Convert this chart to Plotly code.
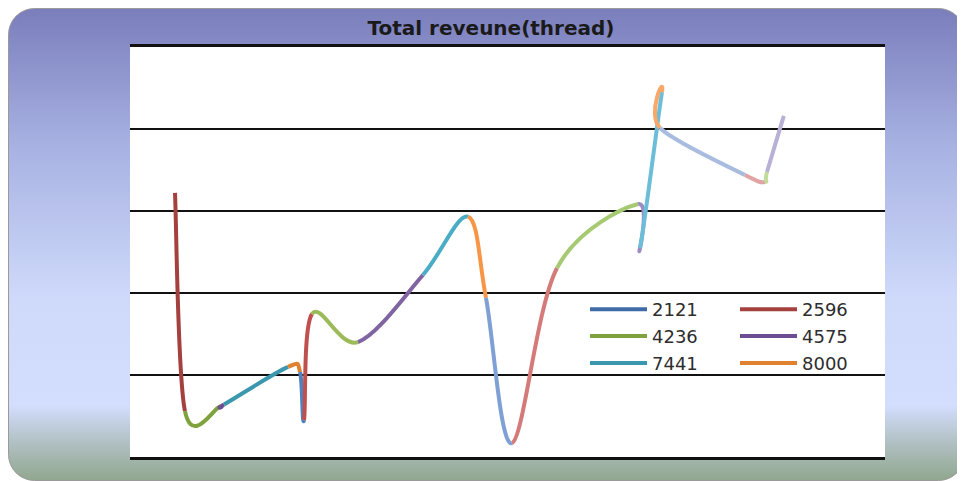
import base64
import plotly.graph_objects as go

# ---------------- data ----------------
legend_labels = ["2121", "2596", "4236", "4575", "7441", "8000"]
x_vals = [5.96, 7.28, 11.92, 12.45, 20.93, 22.52, 23.05, 24.10, 30.20, 38.80, 44.77,
          47.15, 50.60, 56.56, 67.30, 67.55, 70.46, 70.20, 81.46, 84.10, 84.37, 86.60]
y_vals = [3220, 560, 615, 640, 1098, 1037, 451, 1744, 1402, 2220, 2930,
          1940, 170, 2305, 3085, 2549, 4450, 4012, 3439, 3354, 3476, 4160]
title_text = "Total reveune(thread)"

# ---------------- styles ----------------
legend_colors = ["#3F6CA6", "#A4403D", "#7FA23F", "#6C4E92", "#3A97AD", "#E0812F"]
point_colors = (legend_colors +
                ["#4F81BD", "#C0504D", "#9BBB59", "#8064A2", "#4BACC6", "#F79646"] +
                ["#7FA0D4", "#D47A78", "#A6CA72", "#9C8CC4", "#6CBDD8", "#F9A86A"] +
                ["#A9BCE0", "#E0A4A2", "#C0DC98", "#B9B0D6"])

# page body has an 8px margin, so the figure is laid out 8px up/left
W, H = 957, 473
L, R, T, B = 122, 877, 39, 449

fig = go.Figure()

n = len(x_vals)
shapes = []
shapes.append(dict(type="rect", xref="paper", yref="paper", x0=0, x1=1, y0=0, y1=1,
                   fillcolor="white", line=dict(width=0), layer="below"))
for i in range(n - 1):
    i0 = i - 1 if i > 0 else i
    i3 = i + 2 if i + 2 < n else i + 1
    x0, y0 = x_vals[i0], y_vals[i0]
    x1, y1 = x_vals[i], y_vals[i]
    x2, y2 = x_vals[i + 1], y_vals[i + 1]
    x3, y3 = x_vals[i3], y_vals[i3]
    c1x, c1y = x1 + (x2 - x0) / 6, y1 + (y2 - y0) / 6
    c2x, c2y = x2 - (x3 - x1) / 6, y2 - (y3 - y1) / 6
    path = f"M {x1},{y1} C {c1x},{c1y} {c2x},{c2y} {x2},{y2}"
    shapes.append(dict(type="path", xref="x", yref="y", path=path,
                       line=dict(color=point_colors[(i + 1) % len(point_colors)], width=4),
                       layer="above"))

for k, lab in enumerate(legend_labels):
    fig.add_trace(go.Scatter(x=[None], y=[None], mode="lines", name=lab,
                             line=dict(color=legend_colors[k], width=4),
                             legendgroup=lab,
                             legend="legend" if k % 2 == 0 else "legend2"))

svg = f'''<svg xmlns="http://www.w3.org/2000/svg" width="{W}" height="{H}" viewBox="0 0 {W} {H}">
<defs><linearGradient id="g" x1="0" y1="0" x2="0" y2="1">
<stop offset="0" stop-color="#7A7EBC"/>
<stop offset="0.30" stop-color="#A9B3E3"/>
<stop offset="0.62" stop-color="#CFDAFB"/>
<stop offset="0.84" stop-color="#D3DEFE"/>
<stop offset="0.92" stop-color="#B1C0C3"/>
<stop offset="1" stop-color="#90A78E"/>
</linearGradient></defs>
<rect x="0.5" y="0.5" width="{W-1}" height="{H-1}" rx="26" ry="26" fill="url(#g)" stroke="#9A9A9A" stroke-width="1"/>
</svg>'''
src = "data:image/svg+xml;base64," + base64.b64encode(svg.encode()).decode()
pw, ph = R - L, B - T
fig.add_layout_image(dict(source=src, xref="paper", yref="paper",
                          x=-L / pw, y=1 + T / ph, sizex=W / pw, sizey=H / ph,
                          xanchor="left", yanchor="top", sizing="stretch", layer="below"))

leg_font = dict(family="DejaVu Sans", size=18, color="#2d2d2d")
fig.update_layout(
    width=W, height=H,
    margin=dict(l=L, r=W - R, t=T, b=H - B),
    paper_bgcolor="white", plot_bgcolor="white",
    shapes=shapes,
    title=dict(text=title_text, x=483 / W, xanchor="center",
               y=1 - 20 / H, yanchor="middle",
               font=dict(family="DejaVu Sans", size=20, color="#1a1a1a", weight="bold")),
    xaxis=dict(range=[0, 100], showgrid=False, showticklabels=False, ticks="",
               zeroline=False, showline=True, linecolor="#111111", linewidth=2.5,
               mirror=True, fixedrange=True),
    yaxis=dict(range=[0, 5000], dtick=1000, showgrid=True, gridcolor="#111111",
               gridwidth=2, showticklabels=False, ticks="", zeroline=False,
               showline=False, fixedrange=True),
    legend=dict(x=(577 - L) / pw, y=(B - 283) / ph, xanchor="left", yanchor="top",
                bgcolor="rgba(0,0,0,0)", font=leg_font, tracegroupgap=0.5, itemwidth=57),
    legend2=dict(x=(727 - L) / pw, y=(B - 283) / ph, xanchor="left", yanchor="top",
                 bgcolor="rgba(0,0,0,0)", font=leg_font, tracegroupgap=0.5, itemwidth=57),
    showlegend=True,
)

fig.write_html("out.html")
